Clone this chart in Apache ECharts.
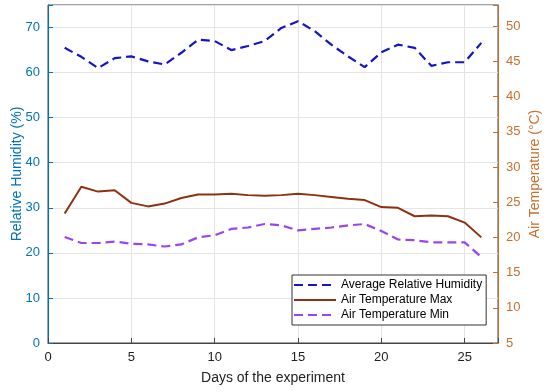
<!DOCTYPE html>
<html><head><meta charset="utf-8">
<script src="https://cdn.jsdelivr.net/npm/echarts@6/dist/echarts.min.js"></script>
<style>html,body{margin:0;padding:0;background:#fff}#c{width:550px;height:392px}</style>
</head><body><div id="c"></div>
<script>
const days = [1,2,3,4,5,6,7,8,9,10,11,12,13,14,15,16,17,18,19,20,21,22,23,24,25,26];
const humidity = [65.5,63.5,61.0,63.2,63.6,62.5,61.8,64.4,67.3,67.0,65.0,65.9,67.0,69.9,71.4,69.2,66.2,63.6,61.2,64.5,66.2,65.5,61.5,62.3,62.3,66.6];
const tempMax = [23.4,27.2,26.5,26.7,24.9,24.4,24.8,25.6,26.1,26.1,26.2,26.0,25.9,26.0,26.2,26.0,25.75,25.5,25.3,24.3,24.2,23.0,23.1,23.0,22.1,20.0];
const tempMin = [20.05,19.2,19.2,19.4,19.1,19.0,18.7,19.0,20.0,20.3,21.2,21.4,21.9,21.7,21.0,21.2,21.4,21.7,21.9,20.9,19.7,19.6,19.3,19.3,19.3,17.2];
const names = ['Average Relative Humidity','Air Temperature Max','Air Temperature Min'];
const pair = (ys) => days.map((d,i)=>[d, ys[i]]);
const font = 'Liberation Sans, Arial, sans-serif';
const blue = '#0072BD', orange = '#C8702E';
const chart = echarts.init(document.getElementById('c'), null, {renderer:'canvas'});
chart.setOption({
  animation:false,
  textStyle:{fontFamily:font},
  grid:{left:48,right:52,top:5,bottom:49,containLabel:false,outerBoundsMode:'none',show:true,borderColor:'#444',borderWidth:1},
  legend:{
    orient:'vertical', left:292, top:275,
    data:names, backgroundColor:'#fff', borderColor:'#333', borderWidth:1,
    padding:[4,4,4,1], itemGap:3, itemWidth:42, itemHeight:14,
    itemStyle:{opacity:0},
    textStyle:{fontFamily:font,fontSize:12,color:'#000'}
  },
  xAxis:{
    type:'value', min:0, max:27, interval:5,
    name:'Days of the experiment', nameLocation:'middle', nameGap:28,
    nameTextStyle:{fontSize:14,color:'#222',fontFamily:font},
    axisLine:{show:true,lineStyle:{color:'#444'}},
    axisTick:{show:true,inside:true,length:5,lineStyle:{color:'#444'}},
    axisLabel:{fontSize:13,color:'#222',margin:8,formatter:v=> v%5===0? String(v):''},
    splitLine:{show:true,lineStyle:{color:'#e4e4e4'}}
  },
  yAxis:[{
    type:'value', min:0, max:75, interval:10, position:'left',
    name:'Relative Humidity (%)', nameLocation:'middle', nameGap:24, nameRotate:90, nameMoveOverlap:false,
    nameTextStyle:{fontSize:14,color:blue,fontFamily:font},
    axisLine:{show:true,lineStyle:{color:blue}},
    axisTick:{show:true,inside:true,length:5,lineStyle:{color:blue}},
    axisLabel:{fontSize:13,color:blue,margin:8,formatter:v=> v%10===0? String(v):''},
    splitLine:{show:true,lineStyle:{color:'#e4e4e4'}}
  },{
    type:'value', min:5, max:53, interval:5, position:'right',
    name:'Air Temperature (°C)', nameLocation:'middle', nameGap:30, nameRotate:90, nameMoveOverlap:false,
    nameTextStyle:{fontSize:14,color:orange,fontFamily:font},
    axisLine:{show:true,lineStyle:{color:orange}},
    axisTick:{show:true,inside:true,length:5,lineStyle:{color:orange}},
    axisLabel:{fontSize:13,color:orange,margin:8,formatter:v=> v%5===0? String(v):''},
    splitLine:{show:false}
  }],
  series:[
    {name:names[0],type:'line',yAxisIndex:0,data:pair(humidity),symbol:'none',
     lineStyle:{color:'#1414c8',width:2.2,type:[9,5]},itemStyle:{color:'#1414c8'}},
    {name:names[1],type:'line',yAxisIndex:1,data:pair(tempMax),symbol:'none',
     lineStyle:{color:'#8c3210',width:2},itemStyle:{color:'#8c3210'}},
    {name:names[2],type:'line',yAxisIndex:1,data:pair(tempMin),symbol:'none',
     lineStyle:{color:'#9b45ee',width:2.2,type:[9,5]},itemStyle:{color:'#9b45ee'}}
  ]
});
</script></body></html>
